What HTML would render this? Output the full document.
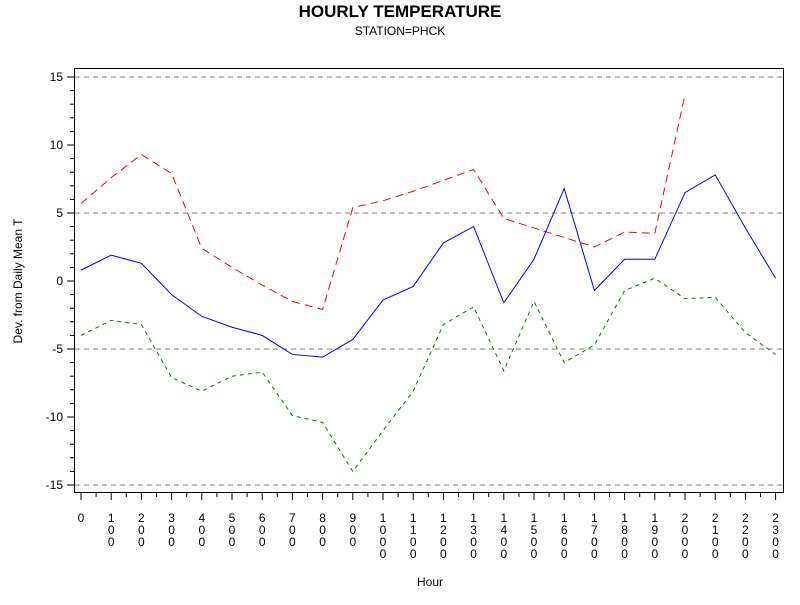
<!DOCTYPE html>
<html><head><meta charset="utf-8"><style>
body{margin:0;background:#fff;font-family:"Liberation Sans",sans-serif}
svg text{font-family:"Liberation Sans",sans-serif}
</style></head><body>
<svg id="chart" width="800" height="600" xmlns="http://www.w3.org/2000/svg">
<text x="400" y="17" text-anchor="middle" font-size="17" font-weight="bold">HOURLY TEMPERATURE</text>
<text x="400" y="35" text-anchor="middle" font-size="12">STATION=PHCK</text>
<text transform="translate(22,281) rotate(-90)" text-anchor="middle" font-size="12">Dev. from Daily Mean T</text>
<text x="430" y="586" text-anchor="middle" font-size="12">Hour</text>
<g id="grid"></g><g id="series"></g><g id="axes"></g>
<rect x="74.5" y="68.5" width="709" height="424" fill="none" stroke="#000" stroke-width="1"/>
</svg>
<script>
const hours=[0,100,200,300,400,500,600,700,800,900,1000,1100,1200,1300,1400,1500,1600,1700,1800,1900,2000,2100,2200,2300];
const meanDev=[0.8,1.9,1.3,-1.0,-2.6,-3.4,-4.0,-5.4,-5.6,-4.3,-1.4,-0.4,2.8,4.0,-1.6,1.6,6.8,-0.7,1.6,1.6,6.5,7.8,3.9,0.2];
const maxDev=[5.7,7.6,9.3,7.9,2.4,1.0,-0.3,-1.5,-2.1,5.4,5.9,6.6,7.4,8.2,4.6,3.9,3.2,2.5,3.6,3.5,13.7];
const minDev=[-4.0,-2.9,-3.2,-7.1,-8.1,-7.0,-6.7,-9.9,-10.4,-14.0,-11.0,-8.1,-3.2,-1.9,-6.6,-1.5,-6.0,-4.7,-0.7,0.2,-1.3,-1.2,-3.8,-5.4];
const yTicks=[-15,-10,-5,0,5,10,15];
const refLines=[-15,-5,5,15];
const NS="http://www.w3.org/2000/svg";
const xs=i=>81+i*30.2;
const ys=v=>281-v*13.6;
function mk(t,a,p){const e=document.createElementNS(NS,t);for(const k in a)e.setAttribute(k,a[k]);p.appendChild(e);return e;}
const grid=document.getElementById('grid'),ser=document.getElementById('series'),ax=document.getElementById('axes');
refLines.forEach(v=>{const l=mk('line',{x1:75,x2:783,y1:ys(v),y2:ys(v),stroke:'#808080','stroke-dasharray':'5,4'},grid);

});
for(let v=-15;v<=15;v++){const major=v%5===0;const t=mk('line',{x1:major?67:70,x2:74.5,y1:ys(v),y2:ys(v),stroke:'#000'},ax);

}
yTicks.forEach(v=>{const t=mk('text',{x:63,y:ys(v)+4,'text-anchor':'end','font-size':12},ax);t.textContent=v;

});
hours.forEach((h,i)=>{const t=mk('line',{x1:xs(i),x2:xs(i),y1:493,y2:500,stroke:'#000'},ax);


if(i<hours.length-1){const m=mk('line',{x1:xs(i)+15.1,x2:xs(i)+15.1,y1:493,y2:497,stroke:'#000'},ax);

}
const txt=mk('text',{x:xs(i),y:522,'text-anchor':'middle','font-size':12},ax);


String(h).split('').forEach((c,k)=>{const s=mk('tspan',{x:xs(i),y:522+k*12},txt);s.textContent=c;});});
function line(arr,color,dash,name){const pts=arr.map((v,i)=>xs(i)+','+ys(v)).join(' ');
const p=mk('polyline',{points:pts,fill:'none',stroke:color,'stroke-width':1,'stroke-dasharray':dash},ser);

}
line(maxDev,'#ff0000','8,5','max-deviation-line');
line(minDev,'#008000','4,4','min-deviation-line');
line(meanDev,'#0000ff','none','mean-deviation-line');
</script>
</body></html>
